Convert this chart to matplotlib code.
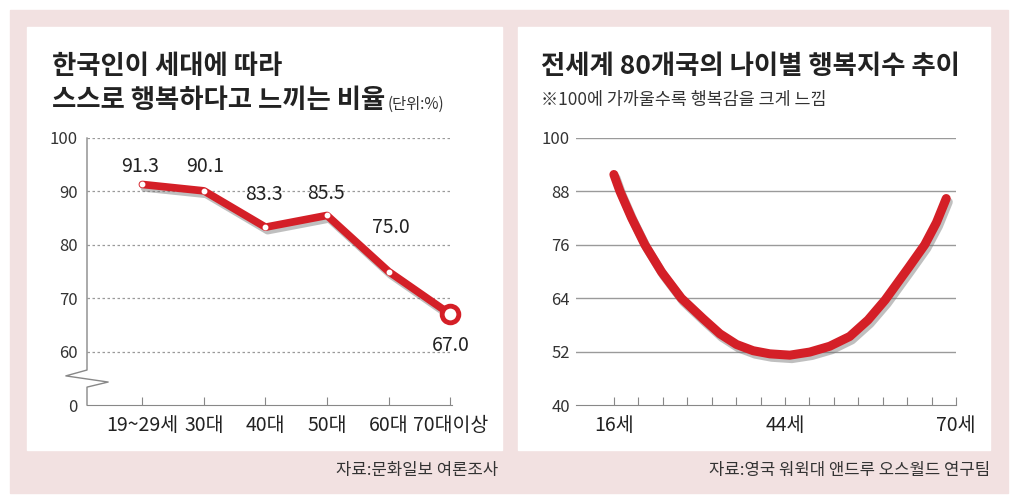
import matplotlib
matplotlib.use("Agg")
import matplotlib.pyplot as plt
import matplotlib.patheffects as pe
from matplotlib.patches import Rectangle
from matplotlib.lines import Line2D

plt.rcParams['font.family'] = ['Noto Sans CJK KR', 'DejaVu Sans']

# left chart: share of Koreans who feel happy, by age group (%)
age_groups = ["19~29세", "30대", "40대", "50대", "60대", "70대이상"]
happy_pct = [91.3, 90.1, 83.3, 85.5, 75.0, 67.0]
left_yticks = [50, 60, 70, 80, 90, 100]
left_ylabels = ["0", "60", "70", "80", "90", "100"]

# right chart: happiness index by age, 80 countries (read off the curve,
# x counted in axis tick steps: 16세 = 0, 44세 = 7, 70세 = 14)
curve_x = [0.0, 0.25, 0.72, 1.27, 1.95, 2.76, 3.65, 4.34, 5.02, 5.70, 6.38,
           7.2, 8.02, 8.83, 9.65, 10.4, 11.1, 12.05, 12.72, 13.2, 13.6]
curve_y = [91.8, 88.0, 82.1, 76.0, 69.9, 64.0, 59.4, 56.0, 53.6, 52.2, 51.5,
           51.2, 51.9, 53.2, 55.4, 59.1, 63.6, 70.8, 76.0, 81.0, 86.4]
age_ticks = list(range(15))
age_labels = {0: "16세", 7: "44세", 14: "70세"}
right_yticks = [40, 52, 64, 76, 88, 100]

W, H = 1016, 503
PINK = "#f2e1e1"
RED = "#d41f27"
GRID = "#9a9a9a"
TXT = "#222222"


def fx(px):
    return px / W


def fy(py):
    return 1 - py / H


fig = plt.figure(figsize=(W / 100, H / 100), dpi=100)
fig.add_artist(Rectangle((fx(10), fy(493)), 998 / W, 483 / H,
                         transform=fig.transFigure, color=PINK, zorder=-10))
for x0, x1 in [(27, 502), (518, 990)]:
    fig.add_artist(Rectangle((fx(x0), fy(450)), (x1 - x0) / W, 423 / H,
                             transform=fig.transFigure, color="white", zorder=-9))

shadow = [pe.SimpleLineShadow(offset=(1.5, -2.5), shadow_color="0.45", alpha=0.45),
          pe.Normal()]

# ---- left chart ----
ax = fig.add_axes([fx(87), fy(405), 365 / W, 267 / H])
ax.set_facecolor("none")
x = list(range(len(age_groups)))
ax.set_xlim(-0.9, 5.03)
ax.set_ylim(50, 100)
ax.set_yticks(left_yticks)
ax.set_yticklabels(left_ylabels, fontsize=12, color="#333333")
ax.set_xticks(x)
ax.set_xticklabels(age_groups, fontsize=14, color=TXT)
ax.tick_params(axis="y", length=0, pad=6.5)
ax.tick_params(axis="x", direction="in", length=6, color="#888888", pad=7.5)
for v in left_yticks[1:]:
    ax.axhline(v, color=GRID, lw=0.9, ls=(0, (2, 2)), zorder=1)
for s in ["top", "right", "left"]:
    ax.spines[s].set_visible(False)
ax.spines["bottom"].set_color("#888888")
# left axis line with a break mark
bx = [0, 0, -0.058, 0.058, 0, 0]
by = [1, 0.131, 0.109, 0.086, 0.067, 0]
ax.add_line(Line2D(bx, by, transform=ax.transAxes, color="#888888", lw=1,
                   clip_on=False))

ax.plot(x, happy_pct, color=RED, lw=5.5, solid_capstyle="round",
        solid_joinstyle="round", zorder=3, path_effects=shadow, clip_on=False)
ax.plot(x[:-1], happy_pct[:-1], "o", ms=3.2, color="white", zorder=4)
ax.plot(x[-1], happy_pct[-1], "o", ms=12, mfc="white", mec=RED, mew=3.5,
        zorder=5, clip_on=False)
label_offsets = [(-2, 18), (1, 24), (-2, 33), (-1, 22), (2, 44), (1, -31)]
for xi, v, (dx, dy) in zip(x, happy_pct, label_offsets):
    ax.annotate(f"{v:.1f}", (xi, v), xytext=(dx * 0.72, dy * 0.72),
                textcoords="offset points", ha="center", va="center",
                fontsize=14, color=TXT, zorder=6)

fig.text(fx(52), fy(67), "한국인이 세대에 따라", fontsize=19,
         fontweight="bold", color=TXT, va="center")
fig.text(fx(52), fy(100), "스스로 행복하다고 느끼는 비율", fontsize=19,
         fontweight="bold", color=TXT, va="center")
fig.text(fx(388), fy(104), "(단위:%)", fontsize=11, color="#333333",
         va="center")
fig.text(fx(498), fy(470), "자료:문화일보 여론조사", fontsize=12,
         color="#333333", ha="right", va="center")

# ---- right chart ----
ax2 = fig.add_axes([fx(576), fy(405), 380 / W, 267 / H])
ax2.set_facecolor("none")
ax2.set_xlim(-1.55, 14.0)
ax2.set_ylim(40, 100)
ax2.set_yticks(right_yticks)
ax2.set_yticklabels([str(v) for v in right_yticks], fontsize=12, color="#333333")
ax2.set_xticks(age_ticks)
ax2.set_xticklabels([age_labels.get(t, "") for t in age_ticks], fontsize=14,
                    color=TXT)
ax2.tick_params(axis="y", length=0, pad=4.5)
ax2.tick_params(axis="x", direction="in", length=6, color="#888888", pad=7.5)
for v in right_yticks[1:]:
    ax2.axhline(v, color=GRID, lw=1, zorder=1)
for s in ["top", "right", "left"]:
    ax2.spines[s].set_visible(False)
ax2.spines["bottom"].set_color("#888888")
ax2.plot(curve_x, curve_y, color=RED, lw=6.5, solid_capstyle="round",
         solid_joinstyle="round", zorder=3, path_effects=shadow)

fig.text(fx(541), fy(66), "전세계 80개국의 나이별 행복지수 추이", fontsize=19,
         fontweight="bold", color=TXT, va="center")
fig.text(fx(541), fy(100), "※100에 가까울수록 행복감을 크게 느낌", fontsize=12.5,
         color="#333333", va="center")
fig.text(fx(990), fy(470), "자료:영국 워윅대 앤드루 오스월드 연구팀", fontsize=12,
         color="#333333", ha="right", va="center")

fig.savefig("out.png", dpi=100)
